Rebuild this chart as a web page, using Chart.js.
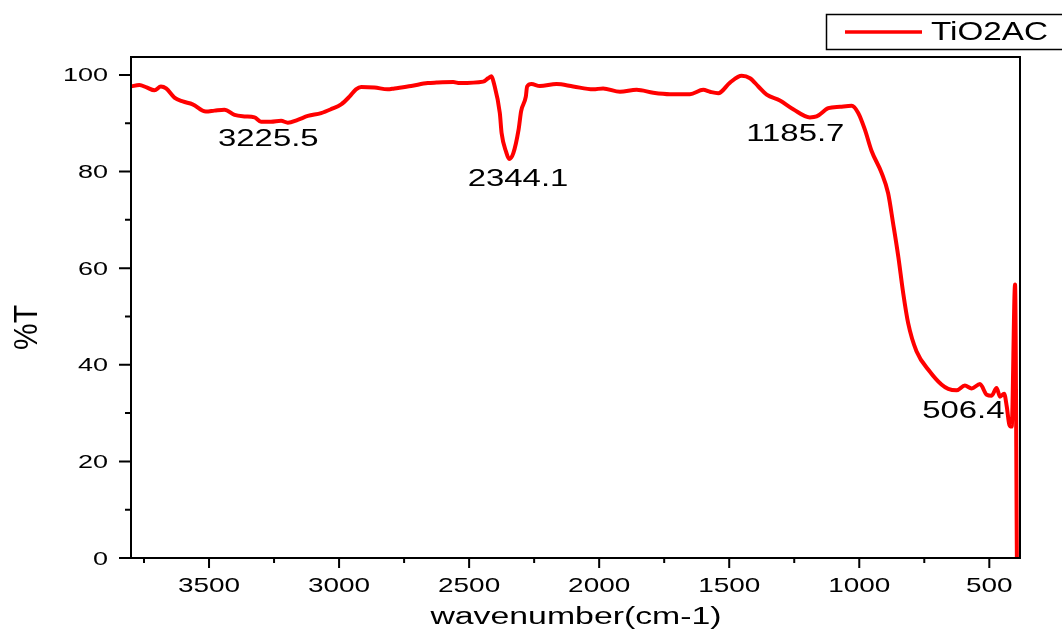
<!DOCTYPE html>
<html>
<head>
<meta charset="utf-8">
<script src="https://cdn.jsdelivr.net/npm/chart.js@4/dist/chart.umd.min.js"></script>
<style>
  html, body { margin: 0; padding: 0; background: #fff; }
  #wrap { width: 1062px; height: 632px; position: relative; }
</style>
</head>
<body>
<div id="wrap"><canvas id="ftir-chart"></canvas></div>
<script>
// ---- data (wavenumber cm-1, %T) ----
const wavenumbers = [
  3800, 3768, 3740, 3710, 3685, 3665, 3633, 3601, 3563, 3512, 3479, 3441, 3402, 3364, 3325,
  3300, 3262, 3223, 3197, 3159, 3120, 3069, 3031, 2992, 2960, 2935, 2915, 2864, 2813, 2787,
  2723, 2659, 2625, 2561, 2536, 2446, 2427, 2414, 2405, 2382, 2375, 2358, 2346, 2330, 2310,
  2300, 2282, 2277, 2260, 2228, 2164, 2100, 2023, 1985, 1920, 1856, 1792, 1728, 1651, 1600,
  1574, 1542, 1497, 1452, 1420, 1388, 1356, 1305, 1254, 1190, 1164, 1119, 1074, 1029, 1004,
  978, 953, 914, 889, 870, 850, 831, 812, 780, 729, 684, 658, 626, 594, 568,
  536, 510, 491, 472, 459, 443, 433, 423, 414, 401, 394
];
const transmittance = [
  97.6, 97.9, 97.4, 96.8, 97.6, 97.2, 95.3, 94.5, 93.9, 92.4, 92.6, 92.8, 91.7, 91.4, 91.2,
  90.3, 90.3, 90.5, 90.1, 90.7, 91.5, 92.1, 92.9, 93.9, 95.5, 97.0, 97.5, 97.4, 97.0, 97.2,
  97.7, 98.3, 98.4, 98.5, 98.3, 98.6, 99.3, 99.7, 98.3, 92.1, 87.9, 84.1, 82.6, 83.8, 88.6,
  92.5, 95.5, 97.6, 98.1, 97.7, 98.1, 97.6, 97.0, 97.2, 96.5, 96.9, 96.3, 96.0, 96.0, 96.9,
  96.5, 96.2, 98.4, 99.8, 99.3, 97.6, 95.9, 94.7, 92.9, 91.2, 91.4, 93.1, 93.4, 93.6, 92.1,
  88.6, 84.3, 79.7, 75.5, 69.3, 62.4, 54.8, 48.6, 42.8, 38.6, 35.9, 35.0, 34.7, 35.7, 35.1,
  36.0, 33.8, 33.6, 35.2, 33.4, 34.0, 31.4, 27.6, 27.2, 56.6, 0
];
const seriesName = 'TiO2AC';

const xTicks = [3500, 3000, 2500, 2000, 1500, 1000, 500];
const xMinorTicks = [3750, 3250, 2750, 2250, 1750, 1250, 750];
const yTicks = [0, 20, 40, 60, 80, 100];
const yMinorTicks = [10, 30, 50, 70, 90];

const peakLabels = ['3225.5', '2344.1', '1185.7', '506.4'];
// where each peak label sits, in data space (wavenumber, %T of the baseline)
const peakLabelAnchors = [[3272, 85.3], [2312, 77.0], [1246, 86.3], [600, 29.0]];

const FONT = '"Liberation Sans", Arial, sans-serif';

// 參考圖的文字被水平拉寬，這裡用 scale 模擬
function drawText(ctx, text, x, y, size, sx, align) {
    ctx.save();
    ctx.font = size + 'px ' + FONT;
    ctx.textAlign = align || 'center';
    ctx.textBaseline = 'alphabetic';
    ctx.fillStyle = '#000';
    ctx.translate(x, y);
    ctx.scale(sx, 1);
    ctx.fillText(text, 0, 0);
    ctx.restore();
}

const frameAndText = {
    id: 'frameAndText',
    afterDraw(chart) {
        const ctx = chart.ctx;
        const { left, right, top, bottom } = chart.chartArea;
        const xs = chart.scales.x;
        const ys = chart.scales.y;

        ctx.save();
        ctx.strokeStyle = '#000';
        ctx.lineWidth = 2;
        ctx.strokeRect(left, top, right - left, bottom - top);

        // x ticks (outward, below)
        ctx.beginPath();
        xTicks.forEach(v => { const p = xs.getPixelForValue(v); ctx.moveTo(p, bottom); ctx.lineTo(p, bottom + 10); });
        xMinorTicks.forEach(v => { const p = xs.getPixelForValue(v); ctx.moveTo(p, bottom); ctx.lineTo(p, bottom + 5); });
        // y ticks (outward, left)
        yTicks.forEach(v => { const p = ys.getPixelForValue(v); ctx.moveTo(left, p); ctx.lineTo(left - 12, p); });
        yMinorTicks.forEach(v => { const p = ys.getPixelForValue(v); ctx.moveTo(left, p); ctx.lineTo(left - 6, p); });
        ctx.stroke();
        ctx.restore();

        xTicks.forEach(v => drawText(ctx, String(v), xs.getPixelForValue(v), 592, 21, 1.33, 'center'));
        yTicks.forEach(v => drawText(ctx, String(v), 108, ys.getPixelForValue(v) + 6.5, 18, 1.5, 'right'));

        // axis titles
        drawText(ctx, 'wavenumber(cm-1)', 576, 624, 23, 1.47, 'center');
        ctx.save();
        ctx.translate(36.5, 327.5);
        ctx.rotate(-Math.PI / 2);
        ctx.scale(1, 1.1);
        ctx.font = '30px ' + FONT;
        ctx.fillStyle = '#000';
        ctx.textAlign = 'center';
        ctx.fillText('%T', 0, 0);
        ctx.restore();

        // peak labels
        peakLabels.forEach((t, i) => {
            const [wx, wy] = peakLabelAnchors[i];
            drawText(ctx, t, xs.getPixelForValue(wx), ys.getPixelForValue(wy), 23, 1.43, 'center');
        });

        // legend
        ctx.save();
        ctx.strokeStyle = '#000';
        ctx.lineWidth = 1.5;
        ctx.strokeRect(826.5, 14.5, 240, 35);
        ctx.strokeStyle = '#ff0000';
        ctx.lineWidth = 3.5;
        ctx.beginPath();
        ctx.moveTo(845, 32);
        ctx.lineTo(922, 32);
        ctx.stroke();
        ctx.restore();
        drawText(ctx, seriesName, 931, 40, 25, 1.33, 'left');
    }
};

const points = wavenumbers.map((w, i) => ({ x: w, y: transmittance[i] })).reverse();

new Chart(document.getElementById('ftir-chart'), {
    type: 'line',
    data: {
        datasets: [{
            label: seriesName,
            data: points,
            borderColor: '#ff0000',
            borderWidth: 4,
            pointRadius: 0,
            cubicInterpolationMode: 'monotone',
            fill: false
        }]
    },
    options: {
        responsive: true,
        maintainAspectRatio: false,
        animation: false,
        layout: { padding: { left: 131, right: 42, top: 57, bottom: 74 } },
        plugins: { legend: { display: false }, tooltip: { enabled: false } },
        scales: {
            x: { type: 'linear', reverse: true, min: 382, max: 3800, display: false },
            y: { type: 'linear', min: 0, max: 103.7, display: false }
        }
    },
    plugins: [frameAndText]
});
</script>
</body>
</html>
